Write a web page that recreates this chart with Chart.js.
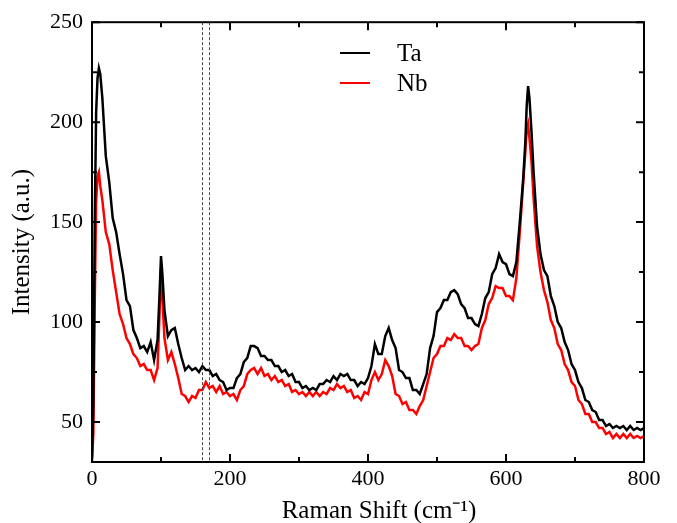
<!DOCTYPE html>
<html>
<head>
<meta charset="utf-8">
<script src="https://cdn.jsdelivr.net/npm/chart.js@4"></script>
<style>
  body { margin: 0; background: #fff; }
  #wrap { width: 677px; height: 523px; }
</style>
</head>
<body>
<div id="wrap"><canvas id="myChart" width="677" height="523"></canvas></div>
<script>
// Raman shift (cm-1)
const shift = [0, 2, 4, 6, 8, 10, 12, 15, 20, 25, 30, 35, 40, 45, 50, 55, 60, 65, 70, 75, 80, 85, 90, 95, 98, 100, 102, 105,
  110, 115, 120, 125, 130, 135, 140, 145, 150, 155, 160, 165, 170, 175, 180, 185, 190, 195, 200, 205, 210, 215, 220, 225,
  230, 235, 240, 245, 250, 255, 260, 265, 270, 275, 280, 285, 290, 295, 300, 305, 310, 315, 320, 325, 330, 335, 340, 345,
  350, 355, 360, 365, 370, 375, 380, 385, 390, 395, 400, 405, 410, 415, 420, 425, 430, 435, 440, 445, 450, 455, 460, 465,
  470, 475, 480, 485, 490, 495, 500, 505, 510, 515, 520, 525, 530, 535, 540, 545, 550, 555, 560, 565, 570, 575, 580, 585,
  590, 595, 600, 605, 610, 615, 620, 625, 628, 630, 632, 634, 637, 640, 645, 650, 655, 660, 665, 670, 675, 680, 685, 690,
  695, 700, 705, 710, 715, 720, 725, 730, 735, 740, 745, 750, 755, 760, 765, 770, 775, 780, 785, 790, 795, 800];

// intensity, Ta sample
const ta = [32, 60, 150, 205, 222, 227, 224, 212, 183, 170, 152, 145, 134, 124, 111, 108, 96, 92, 87, 88, 85, 90, 81, 91, 115, 133, 124, 106,
  93, 96, 97, 89, 82, 76, 78, 76, 77, 75, 78, 76, 76, 73, 74, 71, 70, 66, 67, 67, 72, 74, 80, 82,
  88, 88, 87, 83, 83, 81, 81, 78, 78, 75, 76, 73, 74, 70, 70, 67, 68, 66, 67, 66, 69, 69, 71, 70,
  73, 71, 74, 73, 74, 71, 71, 68, 70, 69, 72, 78, 89, 84, 84, 93, 97, 91, 87, 76, 75, 72, 72, 66,
  66, 64, 69, 74, 87, 93, 105, 107, 111, 111, 115, 116, 114, 109, 107, 102, 102, 99, 98, 104, 112, 115, 124, 127,
  134, 130, 129, 124, 123, 130, 150, 172, 190, 208, 218, 212, 195, 175, 148, 134, 126, 123, 113, 108, 100, 97, 90, 86,
  79, 76, 70, 67, 61, 60, 56, 55, 51, 51, 48, 49, 47, 48, 47, 48, 46, 48, 46, 47, 46, 47];

// intensity, Nb sample
const nb = [30, 45, 110, 160, 173, 175, 168, 161, 145, 139, 126, 115, 104, 99, 92, 89, 84, 82, 78, 79, 76, 76, 71, 77, 105, 127, 112, 92,
  81, 85, 79, 72, 64, 63, 60, 63, 62, 66, 66, 70, 67, 68, 65, 68, 64, 65, 63, 64, 61, 66, 68, 74,
  76, 77, 74, 77, 73, 74, 71, 73, 70, 71, 68, 69, 65, 66, 64, 65, 63, 65, 63, 65, 63, 65, 64, 67,
  66, 69, 67, 68, 65, 66, 62, 63, 61, 65, 64, 71, 75, 71, 74, 81, 78, 73, 64, 63, 59, 60, 56, 56,
  54, 58, 61, 68, 75, 82, 84, 88, 88, 92, 91, 94, 92, 92, 88, 88, 86, 88, 89, 97, 101, 109, 112, 118,
  117, 117, 113, 113, 111, 122, 145, 170, 185, 196, 199, 192, 180, 162, 138, 125, 116, 110, 101, 97, 89, 86, 79, 76,
  70, 68, 61, 59, 54, 54, 50, 50, 47, 47, 44, 45, 42, 44, 42, 44, 42, 44, 42, 43, 42, 43];

const markers = [159, 170];
const markerColors = ['#444444', '#ff0000'];
const xTicks = [0, 100, 200, 300, 400, 500, 600, 700, 800];
const yTicks = [50, 75, 100, 125, 150, 175, 200, 225, 250];

const serif = "'Liberation Serif', 'Times New Roman', serif";

const frame = {
  id: 'frame',
  afterDatasetsDraw(chart) {
    const { ctx, chartArea: a, scales: { x, y } } = chart;
    ctx.save();
    // dotted marker lines
    ctx.lineWidth = 1;
    ctx.setLineDash([3, 2]);
    markers.forEach((m, i) => {
      const px = Math.round(x.getPixelForValue(m)) + 0.5;
      ctx.strokeStyle = markerColors[i];
      ctx.beginPath();
      ctx.moveTo(px, a.top);
      ctx.lineTo(px, a.bottom);
      ctx.stroke();
    });
    ctx.setLineDash([]);
    // box
    ctx.strokeStyle = '#000';
    ctx.lineWidth = 2;
    ctx.strokeRect(a.left, a.top, a.right - a.left, a.bottom - a.top);
    // inward ticks
    xTicks.forEach(v => {
      const px = x.getPixelForValue(v);
      const len = v % 200 ? 5 : 8;
      ctx.beginPath();
      ctx.moveTo(px, a.bottom); ctx.lineTo(px, a.bottom - len);
      ctx.moveTo(px, a.top); ctx.lineTo(px, a.top + len);
      ctx.stroke();
    });
    yTicks.forEach(v => {
      const py = y.getPixelForValue(v);
      const len = v % 50 ? 5 : 8;
      ctx.beginPath();
      ctx.moveTo(a.left, py); ctx.lineTo(a.left + len, py);
      ctx.moveTo(a.right, py); ctx.lineTo(a.right - len, py);
      ctx.stroke();
    });
    // legend
    ctx.font = '25px ' + serif;
    ctx.textBaseline = 'middle';
    chart.data.datasets.forEach((ds, i) => {
      const ly = 53 + i * 30;
      ctx.strokeStyle = ds.borderColor;
      ctx.lineWidth = 2;
      ctx.beginPath();
      ctx.moveTo(340, ly); ctx.lineTo(370, ly);
      ctx.stroke();
      ctx.fillStyle = '#000';
      ctx.fillText(ds.label, 397, ly + 1);
    });
    // x axis title (sits a bit right of centre in the original)
    ctx.textAlign = 'center';
    ctx.fillText('Raman Shift (cm⁻¹)', (a.left + a.right) / 2 + 11, 511);
    ctx.restore();
  }
};

const ctx = document.getElementById('myChart').getContext('2d');
const myChart = new Chart(ctx, {
  type: 'line',
  data: {
    labels: shift,
    datasets: [{
      label: 'Ta',
      data: ta,
      borderColor: '#000000',
      borderWidth: 2.5,
      pointRadius: 0,
      tension: 0
    }, {
      label: 'Nb',
      data: nb,
      borderColor: '#ff0000',
      borderWidth: 2.5,
      pointRadius: 0,
      tension: 0
    }]
  },
  options: {
    responsive: false,
    animation: false,
    layout: { padding: { left: 0, right: 33, top: 15, bottom: 0 } },
    plugins: { legend: { display: false }, tooltip: { enabled: false } },
    scales: {
      x: {
        type: 'linear',
        min: 0,
        max: 800,
        afterFit: s => { s.height = 61; },
        grid: { display: false, drawTicks: false },
        border: { display: false },
        ticks: { stepSize: 200, padding: 4, color: '#000', font: { family: serif, size: 22 }, maxRotation: 0 }
      },
      y: {
        min: 30,
        max: 250,
        afterFit: s => { s.width = 92; },
        grid: { display: false, drawTicks: false },
        border: { display: false },
        ticks: {
          stepSize: 50, includeBounds: false, padding: 9, color: '#000',
          font: { family: serif, size: 22 },
          callback: v => (v % 50 === 0 ? v : null)
        },
        title: { display: true, text: 'Intensity (a.u.)', color: '#000', font: { family: serif, size: 25, lineHeight: 1 }, padding: { top: 10, bottom: 0 } }
      }
    }
  },
  plugins: [frame]
});
</script>
</body>
</html>
